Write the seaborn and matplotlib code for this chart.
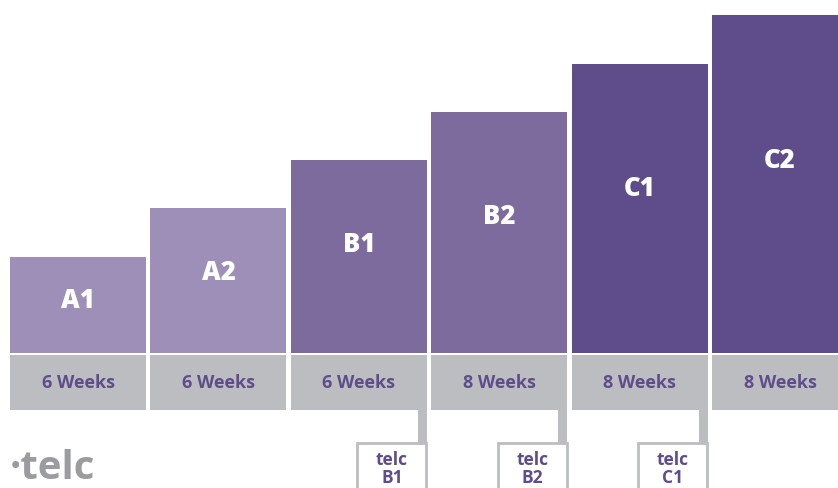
import numpy as np
import pandas as pd
import matplotlib
matplotlib.use('Agg')
import matplotlib.pyplot as plt
import seaborn as sns

levels = ['A1', 'A2', 'B1', 'B2', 'C1', 'C2']
steps = [2, 3, 4, 5, 6, 7]
groups = ['A', 'A', 'B', 'B', 'C', 'C']
weeks = ['6 Weeks', '6 Weeks', '6 Weeks', '8 Weeks', '8 Weeks', '8 Weeks']
exam_levels = ['B1', 'B2', 'C1']

purple = {'A': '#9d8fb8', 'B': '#7e6b9d', 'C': '#5e4d8a'}
grey = '#bcbdc1'
text_purple = '#5e4d8a'

df = pd.DataFrame({'level': levels, 'step': steps, 'group': groups, 'weeks': weeks})

sns.set_theme(style='white')
plt.rcParams['font.family'] = ['Open Sans', 'DejaVu Sans']

fig = plt.figure(figsize=(8.38, 4.88), dpi=100)
ax = fig.add_axes([0, 0, 1, 1])

sns.barplot(data=df, x='level', y='step', hue='group', palette=purple,
            width=0.969, dodge=False, legend=False, ax=ax, saturation=1,
            linewidth=0)

xs = np.arange(len(levels))
# grey duration boxes under each level
ax.bar(xs, 1.14, bottom=-1.18, width=0.969, color=grey, linewidth=0)
for i, (s, w) in enumerate(zip(steps, weeks)):
    ax.text(i, s * 0.58 - 0.08, levels[i], color='white', fontsize=18.5,
            fontweight='heavy', ha='center', va='center')
    ax.text(i, -0.62, w, color=text_purple, fontsize=13, fontweight='bold',
            ha='center', va='center')

# telc exam tags hanging from the boxes
for lv in exam_levels:
    i = levels.index(lv)
    right = i + 0.4845
    ax.bar(right - 0.032, 0.72, bottom=-1.9, width=0.064, color=grey, linewidth=0)
    ax.add_patch(plt.Rectangle((i - 0.01, -3.2), 0.49, 1.33, facecolor='white',
                               edgecolor=grey, linewidth=2, zorder=3))
    ax.text(i + 0.236, -2.22, 'telc', color=text_purple, fontsize=12.5,
            fontweight='bold', ha='center', va='center', zorder=4)
    ax.text(i + 0.236, -2.6, lv, color=text_purple, fontsize=12.5,
            fontweight='bold', ha='center', va='center', zorder=4)

# logo
ax.text(-0.49, -2.4, '\u00b7telc', color='#9a9c9f', fontsize=29, fontweight='bold',
        ha='left', va='center')

ax.set_xlim(-0.556, 5.413)
ax.set_ylim(-2.80, 7.32)
ax.axis('off')

fig.savefig('out.png', dpi=100)
